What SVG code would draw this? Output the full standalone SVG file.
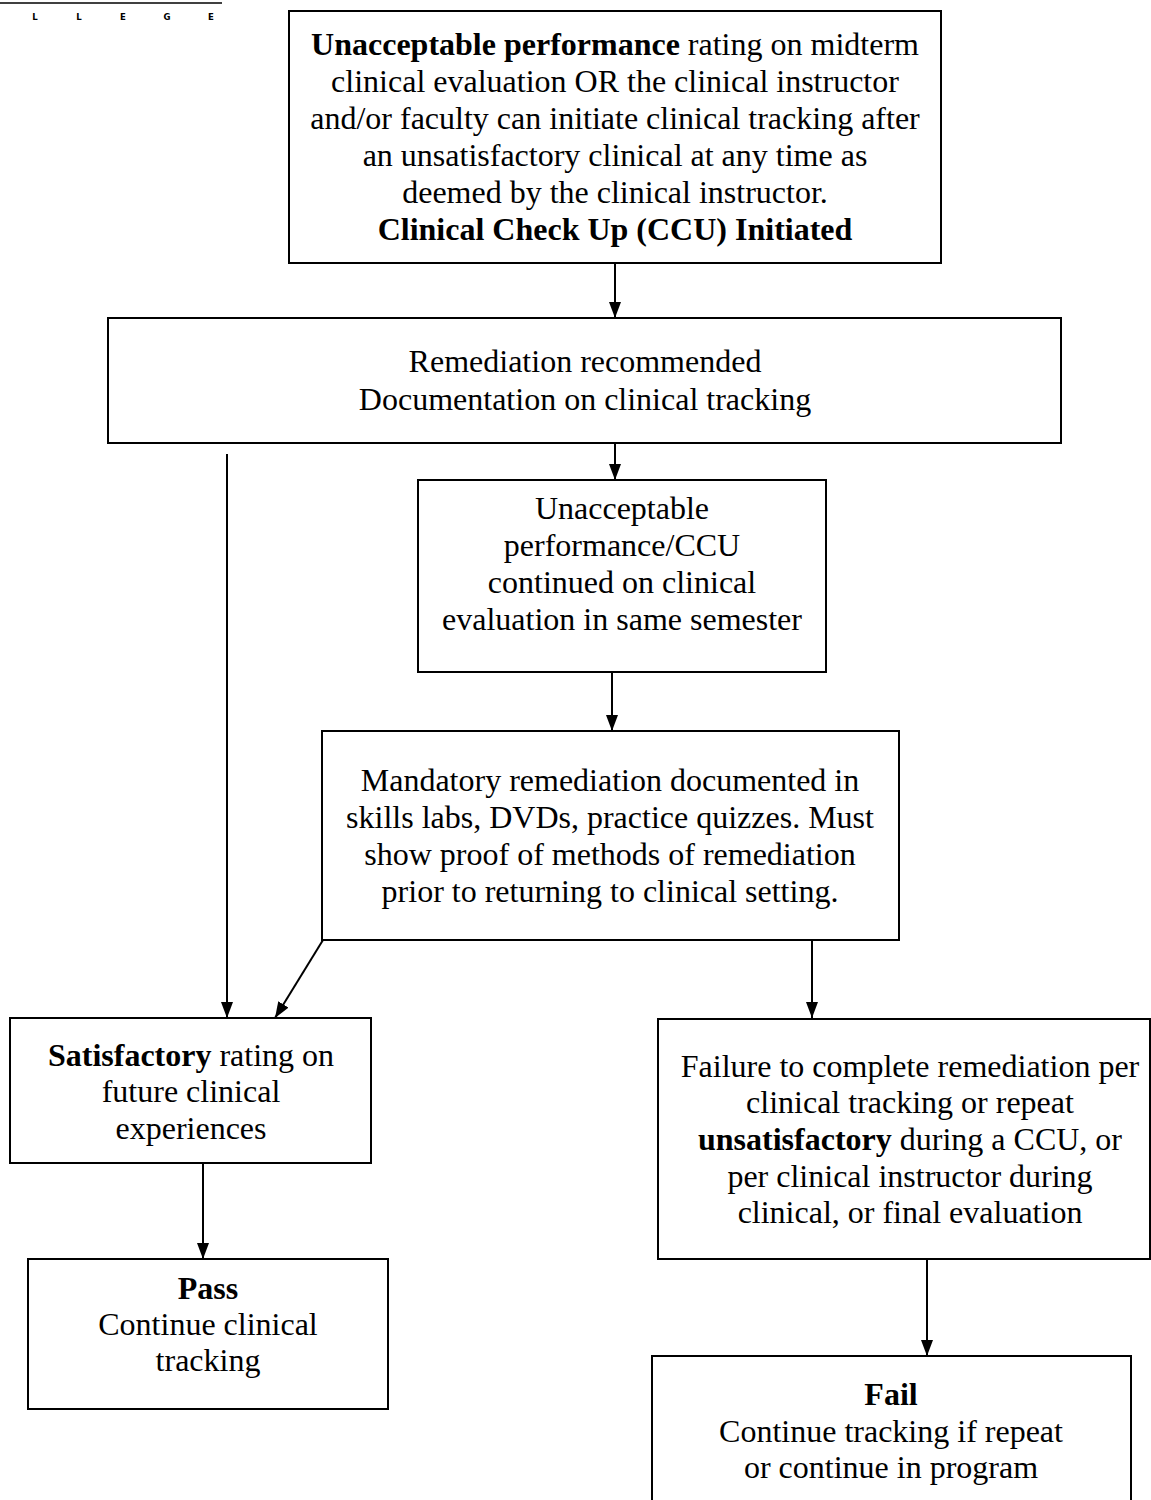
<svg xmlns="http://www.w3.org/2000/svg" width="1151" height="1500" viewBox="0 0 1151 1500">
<style>
.box{fill:#fff;stroke:#000;stroke-width:2}
.t{font-family:"Liberation Serif","Times New Roman",serif;font-size:32px;fill:#000;text-anchor:middle}
.b{font-weight:bold}
.c{stroke:#000;stroke-width:2;fill:none}
.hdr{font-family:"DejaVu Sans Condensed","Liberation Sans",Arial,sans-serif;font-size:9.5px;font-weight:bold;fill:#000;text-anchor:middle}
</style>
<defs>
<marker id="ah" viewBox="0 0 16 12" markerWidth="16" markerHeight="12" refX="16" refY="6" orient="auto" markerUnits="userSpaceOnUse">
<path d="M0,0 L16,6 L0,12 z" fill="#000"/>
</marker>
</defs>
<rect width="1151" height="1500" fill="#fff"/>
<g id="header">
<line x1="0" y1="3" x2="222" y2="3" stroke="#000" stroke-width="1.5"/>
<text class="hdr" x="35" y="19.5">L</text>
<text class="hdr" x="79" y="19.5">L</text>
<text class="hdr" x="123" y="19.5">E</text>
<text class="hdr" x="167" y="19.5">G</text>
<text class="hdr" x="211" y="19.5">E</text>
</g>
<g id="connectors">
<line class="c" x1="615" y1="264" x2="615" y2="318" marker-end="url(#ah)"/>
<line class="c" x1="615" y1="443" x2="615" y2="480" marker-end="url(#ah)"/>
<line class="c" x1="612" y1="672" x2="612" y2="731" marker-end="url(#ah)"/>
<line class="c" x1="227" y1="454" x2="227" y2="1018" marker-end="url(#ah)"/>
<line class="c" x1="323" y1="940" x2="275" y2="1018" marker-end="url(#ah)"/>
<line class="c" x1="812" y1="940" x2="812" y2="1018" marker-end="url(#ah)"/>
<line class="c" x1="203" y1="1163" x2="203" y2="1259" marker-end="url(#ah)"/>
<line class="c" x1="927" y1="1259" x2="927" y2="1356" marker-end="url(#ah)"/>
</g>
<g id="n1">
<rect class="box" x="289" y="11" width="652" height="252"/>
<text class="t" x="615" y="55"><tspan class="b">Unacceptable performance</tspan> rating on midterm</text>
<text class="t" x="615" y="92">clinical evaluation OR the clinical instructor</text>
<text class="t" x="615" y="129">and/or faculty can initiate clinical tracking after</text>
<text class="t" x="615" y="166">an unsatisfactory clinical at any time as</text>
<text class="t" x="615" y="203">deemed by the clinical instructor.</text>
<text class="t b" x="615" y="240">Clinical Check Up (CCU) Initiated</text>
</g>
<g id="n2">
<rect class="box" x="108" y="318" width="953" height="125"/>
<text class="t" x="585" y="372">Remediation recommended</text>
<text class="t" x="585" y="410">Documentation on clinical tracking</text>
</g>
<g id="n3">
<rect class="box" x="418" y="480" width="408" height="192"/>
<text class="t" x="622" y="519">Unacceptable</text>
<text class="t" x="622" y="556">performance/CCU</text>
<text class="t" x="622" y="593">continued on clinical</text>
<text class="t" x="622" y="630">evaluation in same semester</text>
</g>
<g id="n4">
<rect class="box" x="322" y="731" width="577" height="209"/>
<text class="t" x="610" y="791">Mandatory remediation documented in</text>
<text class="t" x="610" y="828">skills labs, DVDs, practice quizzes. Must</text>
<text class="t" x="610" y="865">show proof of methods of remediation</text>
<text class="t" x="610" y="902">prior to returning to clinical setting.</text>
</g>
<g id="n5">
<rect class="box" x="10" y="1018" width="361" height="145"/>
<text class="t" x="191" y="1066"><tspan class="b">Satisfactory</tspan> rating on</text>
<text class="t" x="191" y="1102">future clinical</text>
<text class="t" x="191" y="1139">experiences</text>
</g>
<g id="n6">
<rect class="box" x="28" y="1259" width="360" height="150"/>
<text class="t b" x="208" y="1299">Pass</text>
<text class="t" x="208" y="1335">Continue clinical</text>
<text class="t" x="208" y="1371">tracking</text>
</g>
<g id="n7">
<rect class="box" x="658" y="1019" width="492" height="240"/>
<text class="t" x="910" y="1077">Failure to complete remediation per</text>
<text class="t" x="910" y="1113">clinical tracking or repeat</text>
<text class="t" x="910" y="1150"><tspan class="b">unsatisfactory</tspan> during a CCU, or</text>
<text class="t" x="910" y="1187">per clinical instructor during</text>
<text class="t" x="910" y="1223">clinical, or final evaluation</text>
</g>
<g id="n8">
<rect class="box" x="652" y="1356" width="479" height="160"/>
<text class="t b" x="891" y="1405">Fail</text>
<text class="t" x="891" y="1442">Continue tracking if repeat</text>
<text class="t" x="891" y="1478">or continue in program</text>
</g>
</svg>
